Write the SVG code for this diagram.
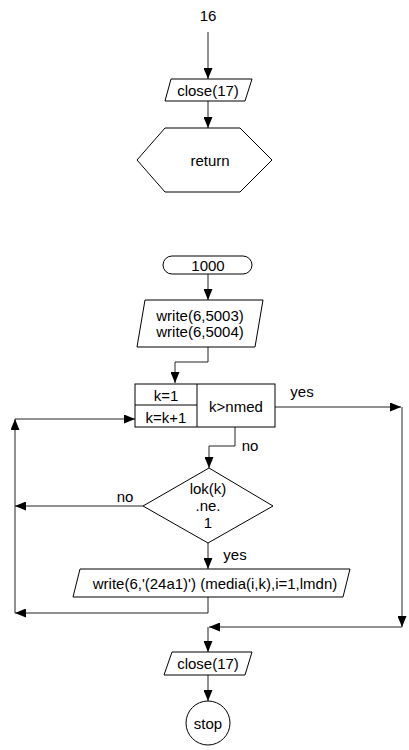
<svg xmlns="http://www.w3.org/2000/svg" width="409" height="750" viewBox="0 0 409 750">
<style>
.s{fill:#fff;stroke:#000;stroke-width:1}
.c{fill:none;stroke:#222;stroke-width:1}
text{font-family:"Liberation Sans",Arial,sans-serif;font-size:15px;fill:#000;text-anchor:middle;dominant-baseline:central}
</style>
<defs>
<marker id="a" markerUnits="userSpaceOnUse" markerWidth="12" markerHeight="9" refX="11" refY="4.5" orient="auto">
<path d="M0,0 L11,4.5 L0,9 z" fill="#000"/>
</marker>
</defs>
<g id="connectors">
<path class="c" d="M208,32 V79" marker-end="url(#a)"/>
<path class="c" d="M208,101 V128" marker-end="url(#a)"/>
<path class="c" d="M208,274 V300" marker-end="url(#a)"/>
<path class="c" d="M208,347 V362 H175 V383" marker-end="url(#a)"/>
<path class="c" d="M275,407 H401" marker-end="url(#a)"/>
<path class="c" d="M402,407 V627" marker-end="url(#a)"/>
<path class="c" d="M402,627 H209" marker-end="url(#a)"/>
<path class="c" d="M208,627 V652" marker-end="url(#a)"/>
<path class="c" d="M235,427 V446 H209 V468" marker-end="url(#a)"/>
<path class="c" d="M143,506 H15" marker-end="url(#a)"/>
<path class="c" d="M208,543 V569" marker-end="url(#a)"/>
<path class="c" d="M208,597 V613 H15" marker-end="url(#a)"/>
<path class="c" d="M15,613 V419" marker-end="url(#a)"/>
<path class="c" d="M15,419 H135" marker-end="url(#a)"/>
<path class="c" d="M208,675 V701" marker-end="url(#a)"/>
<text x="302" y="391">yes</text>
<text x="250" y="445">no</text>
<text x="125" y="496">no</text>
<text x="235" y="554">yes</text>
</g>
<g id="n16"><text x="208" y="15">16</text></g>
<g id="close1">
<polygon class="s" points="171,79 252,79 245,101 165,101"/>
<text x="208" y="90">close(17)</text>
</g>
<g id="return">
<polygon class="s" points="165,128 240,128 272,160 240,192 165,192 137,160"/>
<text x="210" y="160">return</text>
</g>
<g id="t1000">
<rect class="s" x="163" y="256" width="89" height="18" rx="9" ry="9"/>
<text x="208" y="265">1000</text>
</g>
<g id="write1">
<polygon class="s" points="145,300 263,300 255,347 137,347"/>
<text x="200" y="315">write(6,5003)</text>
<text x="200" y="331">write(6,5004)</text>
</g>
<g id="loop">
<rect class="s" x="135" y="384" width="140" height="43"/>
<line class="s" x1="197" y1="384" x2="197" y2="427"/>
<line class="s" x1="135" y1="405" x2="197" y2="405"/>
<text x="166" y="395">k=1</text>
<text x="166" y="417">k=k+1</text>
<text x="236" y="406">k&gt;nmed</text>
</g>
<g id="cond">
<polygon class="s" points="209,468 273,506 208,543 143,506"/>
<text x="208" y="488">lok(k)</text>
<text x="208" y="505">.ne.</text>
<text x="208" y="522">1</text>
</g>
<g id="write2">
<polygon class="s" points="80,569 350,569 343,597 73,597"/>
<text x="215" y="583">write(6,'(24a1)') (media(i,k),i=1,lmdn)</text>
</g>
<g id="close2">
<polygon class="s" points="172,652 252,652 245,675 164,675"/>
<text x="208" y="663">close(17)</text>
</g>
<g id="stop">
<circle class="s" cx="208" cy="723" r="22"/>
<text x="208" y="723">stop</text>
</g>
</svg>
